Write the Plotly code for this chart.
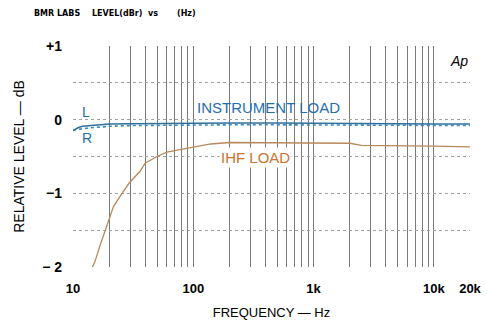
import plotly.graph_objects as go

# ---- data ----
freq_L = [10, 11, 12, 14, 17, 20, 30, 50, 100, 200, 500, 1000, 2000, 5000, 10000, 20000]
level_L = [-0.15, -0.11, -0.09, -0.08, -0.07, -0.06, -0.055, -0.05, -0.045, -0.045, -0.045, -0.045, -0.05, -0.055, -0.06, -0.06]

freq_R = [10, 11, 12, 14, 17, 20, 30, 50, 100, 200, 500, 1000, 2000, 5000, 10000, 20000]
level_R = [-0.14, -0.13, -0.12, -0.11, -0.1, -0.09, -0.08, -0.075, -0.07, -0.07, -0.07, -0.07, -0.075, -0.08, -0.08, -0.08]

freq_IHF = [14.5, 15.2, 17, 19.1, 21.7, 24.6, 29.3, 36.1, 39.8, 49.9, 60.4, 75.5, 100, 140, 200, 500, 1000, 2000, 2500, 5000, 10000, 20000]
level_IHF = [-2.0, -1.93, -1.68, -1.45, -1.18, -1.04, -0.86, -0.70, -0.59, -0.50, -0.44, -0.41, -0.37, -0.33, -0.31, -0.31, -0.31, -0.32, -0.35, -0.36, -0.36, -0.37]

grid_freqs = [10, 20, 30, 40, 50, 60, 70, 80, 90,
              100, 200, 300, 400, 500, 600, 700, 800, 900,
              1000, 2000, 3000, 4000, 5000, 6000, 7000, 8000, 9000,
              10000, 20000]
x_labels = {10: "10", 100: "100", 1000: "1k", 10000: "10k", 20000: "20k"}
y_ticks = [1, 0.5, 0, -0.5, -1, -1.5, -2]
y_labels = {1: "+1", 0: "0", -1: "−1", -2: "− 2"}

fig = go.Figure()
fig.add_trace(go.Scatter(x=freq_IHF, y=level_IHF, mode="lines",
                         line=dict(color="#b8895a", width=1.3), showlegend=False))
fig.add_trace(go.Scatter(x=freq_R, y=level_R, mode="lines",
                         line=dict(color="#3a86c0", width=1.6, dash="dot"), showlegend=False))
fig.add_trace(go.Scatter(x=freq_L, y=level_L, mode="lines",
                         line=dict(color="#2f6f9f", width=1.5), showlegend=False))

font_family = "Liberation Sans, Arial, sans-serif"
hdr_font = dict(size=8, family="DejaVu Sans", color="black")

fig.update_layout(
    width=487, height=320,
    margin=dict(l=73, r=17, t=46, b=53, autoexpand=False),
    paper_bgcolor="white", plot_bgcolor="white",
    font=dict(family=font_family, color="black"),
    xaxis=dict(type="log", range=[1, 4.30103], automargin=False,
               tickvals=grid_freqs,
               ticktext=[("<b>%s</b>" % x_labels[f]) if f in x_labels else "" for f in grid_freqs],
               showgrid=True, gridcolor="#7a7a7a", gridwidth=1,
               zeroline=False, showline=False, ticks="",
               ticklabelstandoff=12,
               tickfont=dict(size=13, color="black"),
               title=dict(text="FREQUENCY — Hz", font=dict(size=13), standoff=12)),
    yaxis=dict(range=[-2, 1], tickvals=y_ticks, automargin=False,
               ticktext=[("<b>%s</b>" % y_labels[v]) if v in y_labels else "" for v in y_ticks],
               showgrid=True, gridcolor="#a0a0a0", gridwidth=1, griddash="dot",
               zeroline=False, showline=False, ticks="",
               ticklabelstandoff=10,
               tickfont=dict(size=14, color="black"),
               title=dict(text="RELATIVE LEVEL — dB", font=dict(size=14), standoff=14)),
    annotations=[
        dict(x=0.0, y=1.0, xref="paper", yref="paper", xanchor="left", yanchor="bottom",
             text="<b>BMR LABS</b>", showarrow=False,
             xshift=-41, yshift=26, font=hdr_font),
        dict(x=0.0, y=1.0, xref="paper", yref="paper", xanchor="left", yanchor="bottom",
             text="<b>LEVEL(dBr)  vs</b>", showarrow=False,
             xshift=17, yshift=26, font=hdr_font),
        dict(x=0.0, y=1.0, xref="paper", yref="paper", xanchor="left", yanchor="bottom",
             text="<b>(Hz)</b>", showarrow=False,
             xshift=102, yshift=26, font=hdr_font),
        dict(x=2.625, y=0.16, xref="x", yref="y", text="INSTRUMENT LOAD", showarrow=False,
             font=dict(size=15, color="#1f6fb0")),
        dict(x=2.517, y=-0.52, xref="x", yref="y", text="IHF LOAD", showarrow=False,
             bgcolor="white", font=dict(size=15, color="#c8732e")),
        dict(x=1.108, y=0.10, xref="x", yref="y", text="L", showarrow=False,
             font=dict(size=14, color="#1f6fb0")),
        dict(x=1.117, y=-0.25, xref="x", yref="y", text="R", showarrow=False,
             font=dict(size=14, color="#1f6fb0")),
        dict(x=4.208, y=0.80, xref="x", yref="y", text="<i>Ap</i>", showarrow=False,
             bgcolor="white", font=dict(size=14, color="black")),
    ],
)

fig.write_html("out.html", config={"displayModeBar": False},
               post_script="document.body.style.margin='0';")
